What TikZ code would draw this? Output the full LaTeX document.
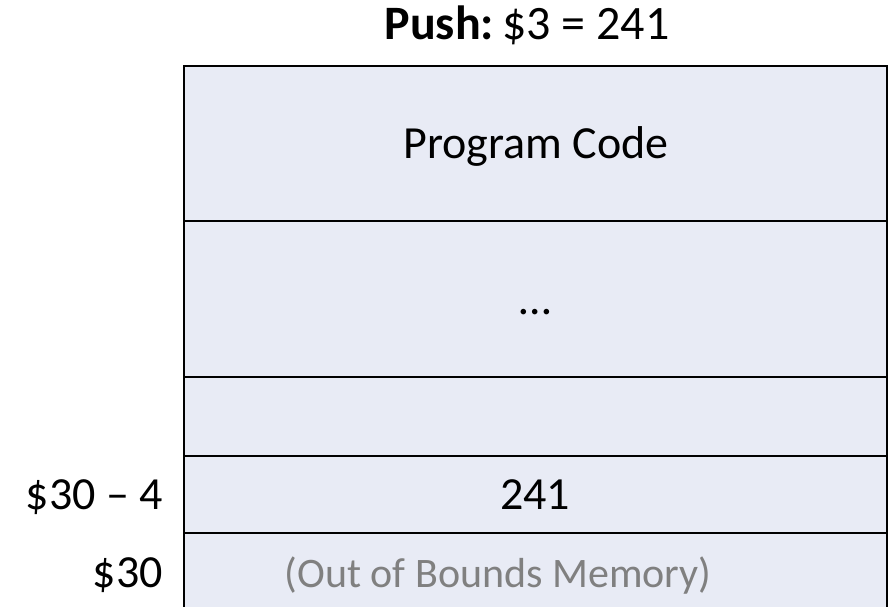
\documentclass[tikz,border=0pt]{standalone}
\usepackage{fontspec}
\setmainfont{Carlito}
\usetikzlibrary{positioning}

\definecolor{cellfill}{RGB}{232,235,245}
\definecolor{dimtext}{RGB}{128,128,128}

\begin{document}
\begin{tikzpicture}[
  x=1pt, y=-1pt,
  every node/.style={font=\fontsize{46}{55}\selectfont, inner sep=0pt},
  cell/.style   ={draw, line width=2pt, fill=cellfill, rectangle,
                  minimum width=703pt, anchor=north west},
  celltxt/.style={anchor=base},
  addr/.style   ={anchor=base east},
]

%% ---- page (px grid, 892 x 607) ----
\useasboundingbox (0,0) rectangle (892,607);
\clip (0,0) rectangle (892,607);

%% ---- title ----
\node[celltxt, font=\fontsize{48}{56}\selectfont] (title) at (527,40)
  {\textbf{Push:}\,\$3 = 241};

%% ---- stack rows ----
\node[cell, minimum height=155pt] (code)  at (183,65)  {};
\node[cell, minimum height=156pt] (dots)  at (183,220) {};
\node[cell, minimum height=79pt]  (blank) at (183,376) {};
\node[cell, minimum height=77pt]  (val)   at (183,455) {};
\node[cell, minimum height=90pt]  (oob)   at (183,532) {};

%% ---- row texts ----
\node[celltxt] (codetxt) at (536,159) {Program Code};
\node[celltxt] (dotstxt) at (535,314) {…};
\node[celltxt] (valtxt)  at (535,509) {241};
\node[celltxt, text=dimtext, font=\fontsize{42}{50}\selectfont] (oobtxt)
  at (498,587) {(Out of Bounds Memory)};

%% ---- addresses ----
\node[addr] (addrval) at (163,509) {\$30 – 4};
\node[addr] (addroob) at (163,587) {\$30};

\end{tikzpicture}
\end{document}
